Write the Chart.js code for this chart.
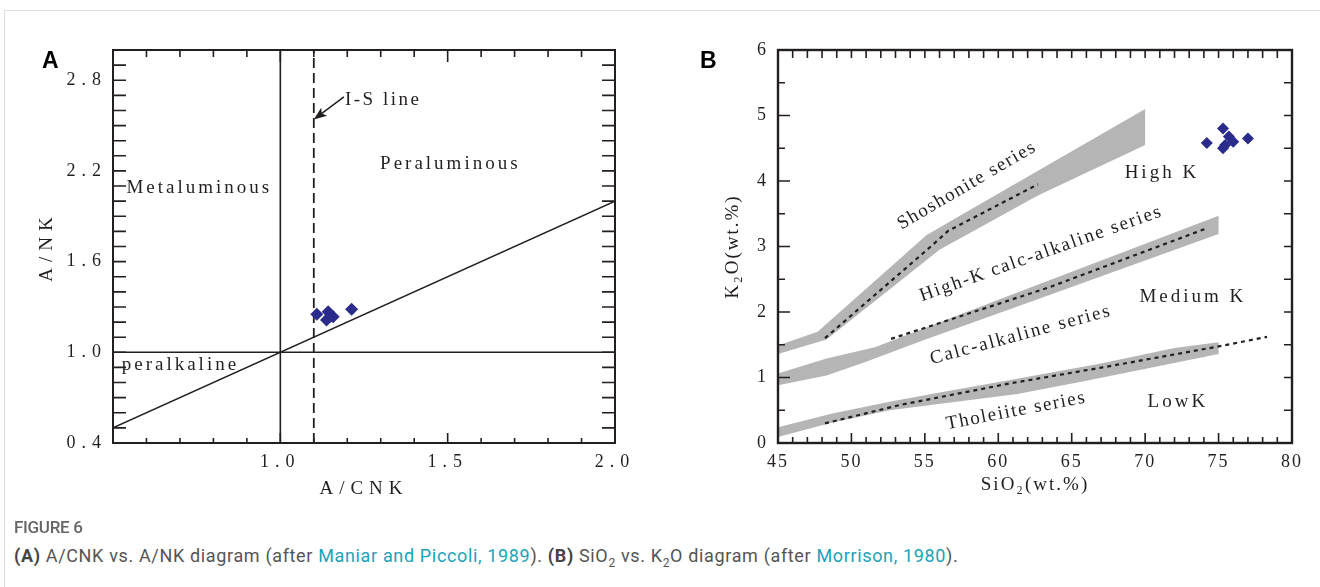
<!DOCTYPE html>
<html>
<head>
<meta charset="utf-8">
<script src="https://cdn.jsdelivr.net/npm/chart.js@4.4.1/dist/chart.umd.min.js"></script>
<style>
  body { margin: 0; background: #fff; width: 1320px; height: 587px; overflow: hidden; position: relative; }
  .frame { position: absolute; left: 4px; top: 10px; right: 0; bottom: 0; border-top: 1px solid #dcdcdc; border-left: 1px solid #dcdcdc; }
  .wrap { position: absolute; top: 0; width: 660px; height: 520px; }
  .panel { position: absolute; top: 47px; font: bold 23px "Liberation Sans", Arial, sans-serif; color: #000; }
  .fig { position: absolute; left: 14px; top: 517px; font: 500 17px Roboto, sans-serif; color: #666; letter-spacing: -0.3px; }
  .cap { position: absolute; left: 14px; top: 545px; font: 18px Roboto, sans-serif; letter-spacing: 0.65px; color: #555; white-space: nowrap; }
  .cap b { font-weight: 700; color: #444; }
  .cap a { color: #1aa3b8; text-decoration: none; }
  .cap sub { font-size: 12px; }
</style>
</head>
<body>
<div class="frame"></div>
<div class="wrap" style="left:0"><canvas id="chartA" width="660" height="520"></canvas></div>
<div class="wrap" style="left:660px"><canvas id="chartB" width="660" height="520"></canvas></div>
<div class="panel" style="left:42px">A</div>
<div class="panel" style="left:700px">B</div>
<div class="fig">FIGURE 6</div>
<div class="cap"><b>(A)</b> A/CNK vs. A/NK diagram (after <a>Maniar and Piccoli, 1989</a>). <b>(B)</b> SiO<sub>2</sub> vs. K<sub>2</sub>O diagram (after <a>Morrison, 1980</a>).</div>

<script>
// ---- panel A: A/CNK vs A/NK ----
const aCnk = [1.109, 1.143, 1.148, 1.138, 1.158, 1.213];
const aNk = [1.251, 1.269, 1.236, 1.214, 1.236, 1.285];
const aXLabels = [1.0, 1.5, 2.0];
const aYLabels = [0.4, 1.0, 1.6, 2.2, 2.8];

// ---- panel B: SiO2 vs K2O ----
const bSiO2 = [74.2, 75.3, 75.7, 75.45, 76.0, 77.0, 75.3];
const bK2O = [4.58, 4.80, 4.68, 4.55, 4.60, 4.65, 4.50];
const bXLabels = [45, 50, 55, 60, 65, 70, 75, 80];
const bYLabels = [0, 1, 2, 3, 4, 5, 6];

// grey boundary bands (upper edge and lower edge)
const shoUpSi = [45, 47.7, 55.1, 57, 70];
const shoUpK = [1.49, 1.70, 3.17, 3.42, 5.10];
const shoLoSi = [45, 48.3, 56, 62.7, 70];
const shoLoK = [1.36, 1.58, 2.95, 3.78, 4.55];

const calcUpSi = [45, 48.3, 51.6, 60.5, 75];
const calcUpK = [1.06, 1.29, 1.46, 2.23, 3.47];
const calcLoSi = [45, 48.3, 51, 54.9, 62.4, 75];
const calcLoK = [0.88, 1.03, 1.24, 1.57, 2.17, 3.19];

const thoUpSi = [45, 48.7, 52.6, 56.2, 61, 66.9, 72, 75];
const thoUpK = [0.24, 0.45, 0.63, 0.78, 0.97, 1.21, 1.45, 1.54];
const thoLoSi = [45, 48.5, 52.6, 61.3, 66, 75];
const thoLoK = [0.09, 0.30, 0.50, 0.75, 0.95, 1.36];

// dashed centre lines
const shoDashSi = [48.2, 55.2, 56.6, 62.7];
const shoDashK = [1.60, 2.96, 3.24, 3.95];
const calcDashSi = [52.7, 63.5, 74.1];
const calcDashK = [1.59, 2.38, 3.27];
const thoDashSi = [48.2, 53.3, 60.8, 67, 74.9, 78.3];
const thoDashK = [0.30, 0.58, 0.91, 1.15, 1.47, 1.62];

const ink = '#231f20';
const navy = '#2b2b8c';
const grey = '#b5b5b5';
const serif = '"Liberation Serif", "Times New Roman", serif';

function pts(xs, ys) {
    return xs.map((x, i) => ({ x: x, y: ys[i] }));
}

function band(upX, upY, loX, loY) {
    return pts(upX, upY).concat(pts(loX, loY).reverse());
}

function isLabelled(list, v) {
    return list.some(l => Math.abs(l - v) < 1e-6);
}

function labelFor(list, digits) {
    return function (v) {
        return isLabelled(list, v) ? v.toFixed(digits) : '';
    };
}

// frame, inward tick marks and text notes
function decorPlugin(cfg) {
    return {
        id: 'decor',
        beforeDraw(chart) {
            chart.ctx.letterSpacing = cfg.spacing;
        },
        afterDraw(chart) {
            const { ctx, chartArea: ca } = chart;
            const x = chart.scales.x, y = chart.scales.y;
            ctx.save();
            ctx.strokeStyle = ink;
            ctx.lineWidth = 1.6;
            ctx.beginPath();
            x.ticks.forEach(t => {
                const px = x.getPixelForValue(t.value);
                const major = isLabelled(cfg.xLabels, t.value);
                ctx.moveTo(px, ca.bottom);
                ctx.lineTo(px, ca.bottom - (major ? cfg.bottom[1] : cfg.bottom[0]));
                ctx.moveTo(px, ca.top);
                ctx.lineTo(px, ca.top + (major ? cfg.top[1] : cfg.top[0]));
            });
            y.ticks.forEach(t => {
                const py = y.getPixelForValue(t.value);
                const major = isLabelled(cfg.yLabels, t.value);
                ctx.moveTo(ca.left, py);
                ctx.lineTo(ca.left + (major ? cfg.left[1] : cfg.left[0]), py);
                ctx.moveTo(ca.right, py);
                ctx.lineTo(ca.right - (major ? cfg.right[1] : cfg.right[0]), py);
            });
            ctx.stroke();
            ctx.lineWidth = cfg.frame;
            ctx.strokeRect(ca.left, ca.top, ca.right - ca.left, ca.bottom - ca.top);

            ctx.fillStyle = ink;
            ctx.textBaseline = 'middle';
            ctx.font = '19px ' + serif;
            cfg.notes.forEach(n => {
                ctx.save();
                ctx.letterSpacing = n.sp;
                ctx.textAlign = n.align;
                ctx.translate(x.getPixelForValue(n.x), y.getPixelForValue(n.y));
                ctx.rotate(-(n.rot || 0) * Math.PI / 180);
                ctx.fillText(n.text, 0, 0);
                ctx.restore();
            });
            if (cfg.arrow) {
                const a = cfg.arrow;
                const x0 = x.getPixelForValue(a.from[0]), y0 = y.getPixelForValue(a.from[1]);
                const x1 = x.getPixelForValue(a.to[0]), y1 = y.getPixelForValue(a.to[1]);
                const ang = Math.atan2(y1 - y0, x1 - x0);
                ctx.lineWidth = 1.5;
                ctx.beginPath();
                ctx.moveTo(x0, y0);
                ctx.lineTo(x1 - 8 * Math.cos(ang), y1 - 8 * Math.sin(ang));
                ctx.stroke();
                ctx.beginPath();
                ctx.moveTo(x1, y1);
                ctx.lineTo(x1 - 13 * Math.cos(ang) + 5 * Math.sin(ang), y1 - 13 * Math.sin(ang) - 5 * Math.cos(ang));
                ctx.lineTo(x1 - 10 * Math.cos(ang), y1 - 10 * Math.sin(ang));
                ctx.lineTo(x1 - 13 * Math.cos(ang) - 5 * Math.sin(ang), y1 - 13 * Math.sin(ang) + 5 * Math.cos(ang));
                ctx.closePath();
                ctx.fill();
            }
            ctx.restore();
        }
    };
}

function lineSet(data, dash, width) {
    return {
        type: 'line', data: data, borderColor: ink, borderWidth: width,
        borderDash: dash, pointRadius: 0, fill: false, tension: 0
    };
}

function bandSet(data) {
    return {
        type: 'line', data: data, fill: 'shape', backgroundColor: grey,
        borderColor: 'rgba(0,0,0,0)', borderWidth: 0, pointRadius: 0, tension: 0
    };
}

function scaleOpts(min, max, step, labels, digits, title, tickPad, titlePad, size, fitSize, horizontal) {
    return {
        type: 'linear', min: min, max: max,
        grid: { display: false, drawTicks: false },
        border: { display: false },
        ticks: {
            stepSize: step, autoSkip: false, maxRotation: 0, padding: tickPad,
            color: ink, font: { family: serif, size: 18 },
            callback: labelFor(labels, digits)
        },
        title: { display: true, text: title, color: ink, font: { family: serif, size: size }, padding: titlePad },
        afterFit(scale) {
            if (horizontal) scale.height = fitSize; else scale.width = fitSize;
        }
    };
}

const baseOpts = {
    responsive: false,
    animation: false,
    events: [],
    plugins: { legend: { display: false }, tooltip: { enabled: false } }
};

new Chart(document.getElementById('chartA'), {
    type: 'scatter',
    data: {
        datasets: [
            {
                data: pts(aCnk, aNk), pointStyle: 'rectRot', pointRadius: 6.5,
                backgroundColor: navy, borderWidth: 0
            },
            lineSet([{ x: 1, y: 0.4 }, { x: 1, y: 3 }], [], 1.6),
            lineSet([{ x: 1.1, y: 0.4 }, { x: 1.1, y: 3 }], [10, 5], 1.8),
            lineSet([{ x: 0.5, y: 1 }, { x: 2, y: 1 }], [], 1.6),
            lineSet([{ x: 0.5, y: 0.5 }, { x: 2, y: 2 }], [], 1.6)
        ]
    },
    options: Object.assign({}, baseOpts, {
        layout: { padding: { top: 50, right: 45, left: 0, bottom: 0 } },
        scales: {
            x: scaleOpts(0.5, 2.0, 0.1, aXLabels, 1, 'A/CNK', 8, { top: 0, bottom: 20 }, 19, 77, true),
            y: scaleOpts(0.4, 3.0, 0.1, aYLabels, 1, 'A/NK', 6, { top: 36, bottom: 0 }, 19, 113, false)
        }
    }),
    plugins: [decorPlugin({
        spacing: '6px', frame: 2,
        xLabels: aXLabels, yLabels: aYLabels,
        top: [7, 12], bottom: [5, 10], left: [13, 13], right: [13, 13],
        notes: [
            { text: 'Metaluminous', x: 0.54, y: 2.09, align: 'left', sp: '3px' },
            { text: 'Peraluminous', x: 1.298, y: 2.245, align: 'left', sp: '3px' },
            { text: 'I-S line', x: 1.193, y: 2.67, align: 'left', sp: '2.5px' },
            { text: 'peralkaline', x: 0.526, y: 0.916, align: 'left', sp: '3px' }
        ],
        arrow: { from: [1.19, 2.69], to: [1.1, 2.54] }
    })]
});

new Chart(document.getElementById('chartB'), {
    type: 'scatter',
    data: {
        datasets: [
            {
                data: pts(bSiO2, bK2O), pointStyle: 'rectRot', pointRadius: 6,
                backgroundColor: navy, borderWidth: 0
            },
            lineSet(pts(shoDashSi, shoDashK), [4, 4], 2.2),
            lineSet(pts(calcDashSi, calcDashK), [4, 4], 2.2),
            lineSet(pts(thoDashSi, thoDashK), [4, 4], 2.2),
            bandSet(band(shoUpSi, shoUpK, shoLoSi, shoLoK)),
            bandSet(band(calcUpSi, calcUpK, calcLoSi, calcLoK)),
            bandSet(band(thoUpSi, thoUpK, thoLoSi, thoLoK))
        ]
    },
    options: Object.assign({}, baseOpts, {
        layout: { padding: { top: 50, right: 28, left: 0, bottom: 0 } },
        scales: {
            x: scaleOpts(45, 80, 1, bXLabels, 0, 'SiO\u2082(wt.%)', 8, { top: 0, bottom: 24 }, 19, 77, true),
            y: scaleOpts(0, 6, 0.5, bYLabels, 0, 'K\u2082O(wt.%)', 10, { top: 62, bottom: 0 }, 19, 118, false)
        }
    }),
    plugins: [decorPlugin({
        spacing: '2px', frame: 2.4,
        xLabels: bXLabels, yLabels: bYLabels,
        top: [8, 8], bottom: [6, 10], left: [7, 12], right: [8, 8],
        notes: [
            { text: 'Shoshonite series', x: 57.87, y: 3.93, rot: 30.4, align: 'center', sp: '1.5px' },
            { text: 'High-K calc-alkaline series', x: 62.92, y: 2.89, rot: 19.5, align: 'center', sp: '1.8px' },
            { text: 'Calc-alkaline series', x: 61.53, y: 1.65, rot: 15.1, align: 'center', sp: '1.9px' },
            { text: 'Tholeiite series', x: 61.22, y: 0.49, rot: 10.9, align: 'center', sp: '1.6px' },
            { text: 'High K', x: 71.14, y: 4.12, align: 'center', sp: '3px' },
            { text: 'Medium K', x: 73.25, y: 2.23, align: 'center', sp: '3px' },
            { text: 'LowK', x: 72.23, y: 0.63, align: 'center', sp: '3px' }
        ]
    })]
});
</script>
</body>
</html>
